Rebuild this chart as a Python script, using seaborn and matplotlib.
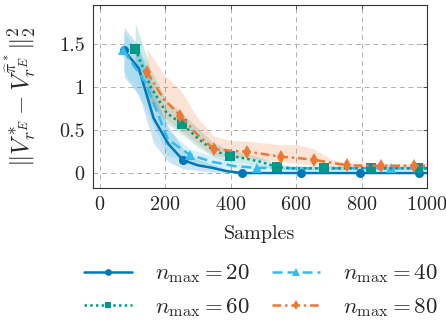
"""
Value error vs. number of samples for several n_max settings.
"""
import matplotlib
matplotlib.use("Agg")
import matplotlib.pyplot as plt
import seaborn as sns

# n_max = 20 (solid, circles)
x20 = [75, 120, 165, 210, 255, 300, 345, 390, 435, 480, 525, 570, 615, 660,
       705, 750, 795, 840, 885, 930, 975, 1020]
y20 = [1.43, 1.22, 0.64, 0.34, 0.15, 0.09, 0.06, 0.02, 0.0, 0.0, 0.0, 0.0,
       0.0, 0.0, 0.0, 0.0, 0.0, 0.0, 0.0, 0.0, 0.0, 0.0]
lo20 = [1.12, 0.92, 0.35, 0.13, 0.05, 0.03, 0.01, 0.0, 0.0, 0.0, 0.0, 0.0,
        0.0, 0.0, 0.0, 0.0, 0.0, 0.0, 0.0, 0.0, 0.0, 0.0]
hi20 = [1.70, 1.48, 0.88, 0.55, 0.28, 0.16, 0.10, 0.05, 0.02, 0.01, 0.01, 0.01,
        0.01, 0.01, 0.01, 0.01, 0.01, 0.01, 0.01, 0.01, 0.01, 0.01]

# n_max = 40 (dashed, triangles)
x40 = [73, 141, 209, 277, 345, 413, 481, 549, 617, 685, 753, 821, 889, 957, 1025]
y40 = [1.43, 1.05, 0.39, 0.21, 0.13, 0.08, 0.06, 0.055, 0.055, 0.055, 0.055,
       0.055, 0.055, 0.055, 0.055]
lo40 = [1.20, 0.75, 0.20, 0.13, 0.08, 0.05, 0.035, 0.03, 0.03, 0.03, 0.03,
        0.03, 0.03, 0.03, 0.03]
hi40 = [1.65, 1.30, 0.50, 0.28, 0.20, 0.12, 0.09, 0.08, 0.08, 0.08, 0.08,
        0.08, 0.08, 0.08, 0.08]

# n_max = 60 (dotted, squares)
x60 = [109, 157, 205, 253, 301, 349, 397, 445, 493, 541, 589, 637, 685, 733,
       781, 829, 877, 925, 973, 1021]
y60 = [1.45, 1.00, 0.70, 0.57, 0.40, 0.26, 0.20, 0.17, 0.13, 0.07, 0.055,
       0.055, 0.055, 0.055, 0.055, 0.055, 0.055, 0.055, 0.055, 0.055]
lo60 = [1.25, 0.80, 0.58, 0.45, 0.30, 0.19, 0.13, 0.11, 0.08, 0.04, 0.035,
        0.035, 0.035, 0.035, 0.035, 0.035, 0.035, 0.035, 0.035, 0.035]
hi60 = [1.75, 1.20, 0.85, 0.70, 0.52, 0.35, 0.27, 0.23, 0.18, 0.11, 0.08,
        0.08, 0.08, 0.08, 0.08, 0.08, 0.08, 0.08, 0.08, 0.08]

# n_max = 80 (dash-dot, diamonds)
x80 = [145, 196, 247, 298, 349, 400, 451, 502, 553, 604, 655, 706, 757, 808,
       859, 910, 961, 1012]
y80 = [1.18, 0.86, 0.67, 0.45, 0.28, 0.26, 0.25, 0.22, 0.19, 0.175, 0.155,
       0.12, 0.09, 0.085, 0.085, 0.085, 0.085, 0.085]
lo80 = [0.92, 0.65, 0.50, 0.35, 0.20, 0.19, 0.18, 0.15, 0.13, 0.11, 0.09,
        0.07, 0.06, 0.06, 0.06, 0.06, 0.06, 0.06]
hi80 = [1.45, 1.15, 0.97, 0.65, 0.43, 0.38, 0.37, 0.35, 0.33, 0.33, 0.28,
        0.16, 0.12, 0.11, 0.11, 0.11, 0.11, 0.11]

labels = [r"$n_{\max} = 20$", r"$n_{\max} = 40$",
          r"$n_{\max} = 60$", r"$n_{\max} = 80$"]
xticks = [0, 200, 400, 600, 800, 1000]
yticks = [0, 0.5, 1, 1.5]
ytick_labels = ["0", "0.5", "1", "1.5"]

sns.set_style("whitegrid")
plt.rcParams["font.family"] = ["cmr10"]
plt.rcParams["mathtext.fontset"] = "cm"
plt.rcParams["axes.formatter.use_mathtext"] = True

fig = plt.figure(figsize=(4.46, 3.24), dpi=100)
ax = fig.add_axes([93 / 446, 1 - 188 / 324, 334 / 446, 183 / 324])

series = [
    (x20, y20, lo20, hi20, "#0077BB", "-", "o", 4, 6.5),
    (x40, y40, lo40, hi40, "#33BBEE", (0, (4, 2)), "^", 3, 7),
    (x60, y60, lo60, hi60, "#009988", (0, (1, 1.3)), "s", 3, 6.5),
    (x80, y80, lo80, hi80, "#EE7733", (0, (3.5, 1.5, 1, 1.5)), "d", 2, 7),
]

# Bands first so every line sits on top
for x, y, lo, hi, c, ls, m, me, ms in series:
    ax.fill_between(x, lo, hi, color=c, alpha=0.2, linewidth=0)

for (x, y, lo, hi, c, ls, m, me, ms), lab in zip(series, labels):
    sns.lineplot(x=x, y=y, ax=ax, color=c, linestyle=ls, linewidth=1.8,
                 marker=m, markersize=ms, markevery=me, markeredgewidth=0,
                 label=lab, legend=False)

ax.set_xlim(-20, 1000)
ax.set_ylim(-0.175, 1.96)
ax.set_xticks(xticks)
ax.set_yticks(yticks)
ax.set_yticklabels(ytick_labels)
ax.grid(True, color="#b0b0b0", linestyle=(0, (5, 4)), linewidth=0.7)
for s in ax.spines.values():
    s.set_color("#333333")
    s.set_linewidth(0.8)
ax.tick_params(direction="in", length=3, width=0.6, color="#333333",
               labelsize=14.5, pad=6, top=True, right=True)

ax.set_xlabel("Samples", fontsize=14.5)
ax.xaxis.set_label_coords(0.5, -0.2)
ax.set_ylabel(r"$\|V^*_{r^E} - V^{\widehat{\pi}^*}_{r^E}\|_2^2$", fontsize=18)
ax.yaxis.set_label_coords(-0.165, 0.5)

# legend fills row by row: 20, 40 / 60, 80
handles, labs = ax.get_legend_handles_labels()
order = [0, 2, 1, 3]
fig.legend([handles[i] for i in order], [labs[i] for i in order],
           loc="center", bbox_to_anchor=(0.585, 0.103),
           ncol=2, frameon=False, fontsize=16.5, handlelength=2.1,
           handletextpad=1.0, columnspacing=1.0, labelspacing=0.45,
           markerscale=0.75)

fig.savefig("out.png", dpi=100)
